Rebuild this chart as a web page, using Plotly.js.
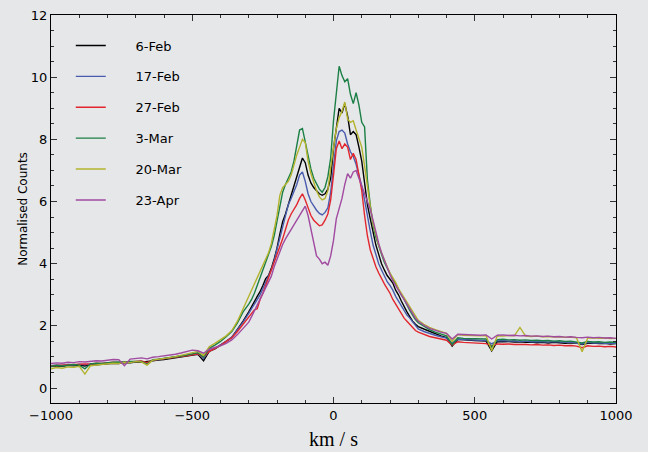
<!DOCTYPE html>
<html>
<head>
<meta charset="utf-8">
<script src="https://cdn.plot.ly/plotly-3.0.1.min.js"></script>
<style>html,body{margin:0;padding:0;background:#e6e7e9;}#chart{width:648px;height:452px;}</style>
</head>
<body>
<div id="chart"></div>
<script>
// velocity grid (km/s)
const velocity = [-1000,-980,-960,-940,-920,-900,-880,-860,-840,-820,-800,-780,-760,-740,-720,-700,-680,-660,-640,-620,-600,-580,-560,-540,-520,-500,-480,-460,-440,-420,-400,-380,-360,-340,-320,
-300,-290,-280,-270,-260,-250,-240,-230,-220,-210,-200,-190,-180,-170,-160,-150,-140,-130,-120,-110,-100,-90,-80,-70,-60,-50,-40,-30,-20,-10,
0,10,20,30,40,50,60,70,80,90,100,110,120,130,140,150,160,170,180,190,200,210,220,230,240,250,260,270,280,290,300,
320,340,360,380,400,420,440,460,480,500,520,540,560,580,600,620,640,660,680,700,720,740,760,780,800,820,840,860,880,900,920,940,960,980,1000];

const labels = ["6-Feb","17-Feb","27-Feb","3-Mar","20-Mar","23-Apr"];

const feb6 = [0.69,0.72,0.70,0.73,0.72,0.74,0.71,0.76,0.75,0.77,0.78,0.80,0.79,0.82,0.81,0.84,0.83,0.86,0.88,0.90,0.92,0.95,0.97,1.00,1.02,1.06,1.09,0.88,1.18,1.26,1.37,1.50,1.63,1.88,2.15,
2.45,2.60,2.78,2.95,3.10,3.30,3.52,3.62,3.85,4.15,4.50,4.95,5.35,5.60,5.90,6.20,6.45,6.80,7.10,7.40,7.25,6.85,6.60,6.45,6.35,6.25,6.20,6.25,6.40,6.75,
7.70,8.40,9.00,8.85,9.15,8.75,8.15,8.25,8.15,7.75,7.30,6.60,5.90,5.45,5.00,4.60,4.30,4.00,3.80,3.62,3.50,3.38,3.15,3.00,2.80,2.60,2.45,2.30,2.15,2.05,1.98,
1.90,1.82,1.75,1.68,1.62,1.35,1.57,1.55,1.54,1.53,1.52,1.51,1.20,1.50,1.49,1.50,1.48,1.49,1.47,1.48,1.46,1.47,1.45,1.47,1.46,1.44,1.46,1.45,1.40,1.44,1.45,1.43,1.44,1.42,1.43];

const feb17 = [0.72,0.74,0.73,0.76,0.74,0.77,0.75,0.78,0.78,0.80,0.81,0.82,0.82,0.85,0.84,0.86,0.86,0.80,0.90,0.92,0.95,0.97,1.00,1.02,1.05,1.08,1.12,0.95,1.20,1.28,1.38,1.50,1.64,1.88,2.12,
2.40,2.55,2.70,2.85,3.00,3.20,3.40,3.55,3.80,4.10,4.45,4.85,5.20,5.50,5.90,6.10,6.30,6.55,6.85,6.95,6.65,6.25,6.00,5.85,5.72,5.62,5.57,5.65,5.80,6.30,
7.20,7.95,8.25,8.30,8.20,7.85,7.60,7.45,7.20,6.85,6.50,6.05,5.50,5.05,4.60,4.30,4.00,3.80,3.60,3.42,3.30,3.15,2.95,2.80,2.65,2.50,2.35,2.25,2.12,2.00,1.90,
1.82,1.75,1.70,1.65,1.61,1.45,1.57,1.56,1.55,1.54,1.55,1.53,1.42,1.52,1.53,1.51,1.52,1.50,1.51,1.49,1.50,1.49,1.48,1.50,1.48,1.47,1.48,1.46,1.42,1.47,1.45,1.46,1.44,1.45,1.44];

const feb27 = [0.72,0.73,0.75,0.74,0.77,0.76,0.78,0.77,0.80,0.79,0.81,0.83,0.82,0.84,0.85,0.86,0.87,0.82,0.90,0.92,0.94,0.96,0.98,1.01,1.04,1.07,1.10,1.00,1.18,1.27,1.37,1.50,1.62,1.82,2.05,
2.30,2.40,2.52,2.55,2.85,3.05,3.30,3.55,3.75,4.00,4.25,4.50,4.80,5.10,5.40,5.60,5.75,5.90,6.10,6.25,6.05,5.80,5.55,5.40,5.30,5.22,5.25,5.40,5.60,6.05,
6.85,7.70,7.95,7.70,7.85,7.75,7.35,7.55,7.35,6.80,6.35,5.55,4.90,4.45,4.15,3.90,3.70,3.50,3.35,3.20,3.05,2.85,2.70,2.55,2.40,2.25,2.15,2.05,1.95,1.85,1.80,
1.72,1.66,1.62,1.58,1.54,1.38,1.49,1.47,1.46,1.45,1.44,1.43,1.36,1.42,1.41,1.42,1.40,1.41,1.40,1.39,1.40,1.38,1.39,1.37,1.38,1.36,1.37,1.35,1.30,1.36,1.34,1.35,1.33,1.34,1.32];

const mar3 = [0.70,0.73,0.71,0.74,0.76,0.74,0.62,0.78,0.80,0.79,0.82,0.83,0.84,0.83,0.86,0.87,0.86,0.76,0.91,0.93,0.95,0.98,1.00,1.03,1.06,1.10,1.14,1.00,1.28,1.38,1.50,1.65,1.82,2.10,2.45,
2.70,2.85,3.05,3.30,3.55,3.75,4.00,4.30,4.55,4.90,5.35,5.90,6.30,6.55,6.75,6.95,7.30,7.75,8.30,8.35,7.90,7.55,7.05,6.75,6.55,6.40,6.30,6.45,6.80,7.40,
8.60,9.60,10.35,10.05,9.85,9.95,9.45,9.15,9.50,9.10,8.55,8.40,6.70,5.90,5.25,4.85,4.55,4.30,4.05,3.85,3.65,3.50,3.35,3.15,3.00,2.85,2.65,2.50,2.35,2.20,2.10,
1.98,1.88,1.80,1.74,1.68,1.40,1.62,1.60,1.59,1.58,1.57,1.58,1.32,1.56,1.57,1.55,1.56,1.54,1.55,1.53,1.54,1.52,1.53,1.51,1.52,1.50,1.51,1.49,1.45,1.50,1.48,1.49,1.47,1.48,1.47];

const mar20 = [0.62,0.66,0.64,0.68,0.67,0.70,0.45,0.72,0.74,0.76,0.77,0.80,0.79,0.83,0.82,0.85,0.84,0.74,0.90,0.92,0.96,0.98,1.01,1.05,1.08,1.12,1.18,1.05,1.33,1.44,1.55,1.68,1.85,2.15,2.55,
2.95,3.15,3.35,3.55,3.70,3.90,4.10,4.35,4.65,5.05,5.55,6.20,6.45,6.55,6.65,6.85,7.20,7.50,7.75,8.00,7.90,7.30,6.90,6.60,6.35,6.15,6.05,6.10,6.35,7.10,
7.80,8.35,8.70,8.90,9.20,8.65,8.55,8.60,8.30,8.05,7.75,7.15,6.45,5.85,5.30,4.90,4.60,4.35,4.10,3.90,3.70,3.55,3.40,3.20,3.05,2.90,2.75,2.60,2.45,2.30,2.18,
2.05,1.95,1.88,1.82,1.76,1.50,1.72,1.70,1.69,1.70,1.68,1.69,1.20,1.68,1.67,1.69,1.68,1.95,1.67,1.66,1.67,1.65,1.66,1.64,1.65,1.63,1.64,1.62,1.17,1.61,1.62,1.60,1.61,1.59,1.60];

const apr23 = [0.79,0.81,0.80,0.83,0.82,0.85,0.84,0.86,0.88,0.87,0.90,0.92,0.91,0.72,0.93,0.95,0.97,0.94,0.99,1.01,1.03,1.06,1.09,1.13,1.17,1.22,1.20,1.12,1.25,1.30,1.36,1.44,1.55,1.72,1.92,
2.12,2.30,2.48,2.65,2.83,3.05,3.22,3.40,3.60,3.90,4.15,4.40,4.62,4.80,4.95,5.10,5.25,5.40,5.55,5.70,5.85,5.55,5.10,4.70,4.25,4.15,4.00,4.05,3.95,4.25,
4.75,5.45,5.80,6.10,6.55,6.90,6.75,6.95,7.00,6.75,6.50,6.30,6.05,5.75,5.40,5.00,4.65,4.35,4.10,3.85,3.65,3.45,3.30,3.15,3.00,2.85,2.70,2.55,2.40,2.25,2.15,
2.02,1.92,1.85,1.80,1.76,1.58,1.73,1.72,1.71,1.72,1.70,1.71,1.58,1.70,1.71,1.69,1.70,1.68,1.69,1.67,1.68,1.66,1.67,1.65,1.66,1.64,1.65,1.63,1.62,1.64,1.62,1.63,1.61,1.62,1.60];

const xTicks = [-1000,-500,0,500,1000];
const yTicks = [0,2,4,6,8,10,12];

const series = [feb6, feb17, feb27, mar3, mar20, apr23];
const colors = ["#000000","#4a5cae","#e2262e","#1b7f45","#b3b32e","#a04aa0"];
const NB = "\u00a0\u00a0\u00a0\u00a0\u00a0\u00a0";

const traces = series.map((s,i)=>({
  x: velocity, y: s, type:'scatter', mode:'lines', name: NB+labels[i],
  legendgroup: 'g'+i,
  line:{color:colors[i], width:1.4}
}));

const axisCommon = {
  showline:true, mirror:'ticks', linecolor:'#000', linewidth:1.2,
  ticks:'inside', ticklen:6, tickwidth:1, tickcolor:'#333',
  showgrid:false, zeroline:false,
  tickfont:{family:'DejaVu Sans', size:13, color:'#000'}
};

const layout = {
  width:648, height:452,
  paper_bgcolor:'#e6e7e9', plot_bgcolor:'#e6e7e9',
  margin:{l:51, r:32, t:15, b:49},
  showlegend:true,
  legend:{x:0.035, y:0.96, xanchor:'left', yanchor:'top', bgcolor:'rgba(0,0,0,0)',
    font:{family:'DejaVu Sans', size:13, color:'#000'}, tracegroupgap:11, traceorder:'grouped'},
  xaxis: Object.assign({}, axisCommon, {
    range:[-1000,1000], tickvals:xTicks,
    minor:{ticks:'inside', ticklen:3, dtick:100, tickcolor:'#333'},
    title:{text:'km / s', font:{family:'Liberation Serif', size:20, color:'#000'}, standoff:10}
  }),
  yaxis: Object.assign({}, axisCommon, {
    range:[-0.48,12], tickvals:yTicks,
    minor:{ticks:'inside', ticklen:3, dtick:0.5, tickcolor:'#333'},
    title:{text:'Normalised Counts', font:{family:'DejaVu Sans', size:12, color:'#000'}, standoff:0}
  })
};

Plotly.newPlot('chart', traces, layout, {displayModeBar:false, staticPlot:true});
</script>
</body>
</html>
